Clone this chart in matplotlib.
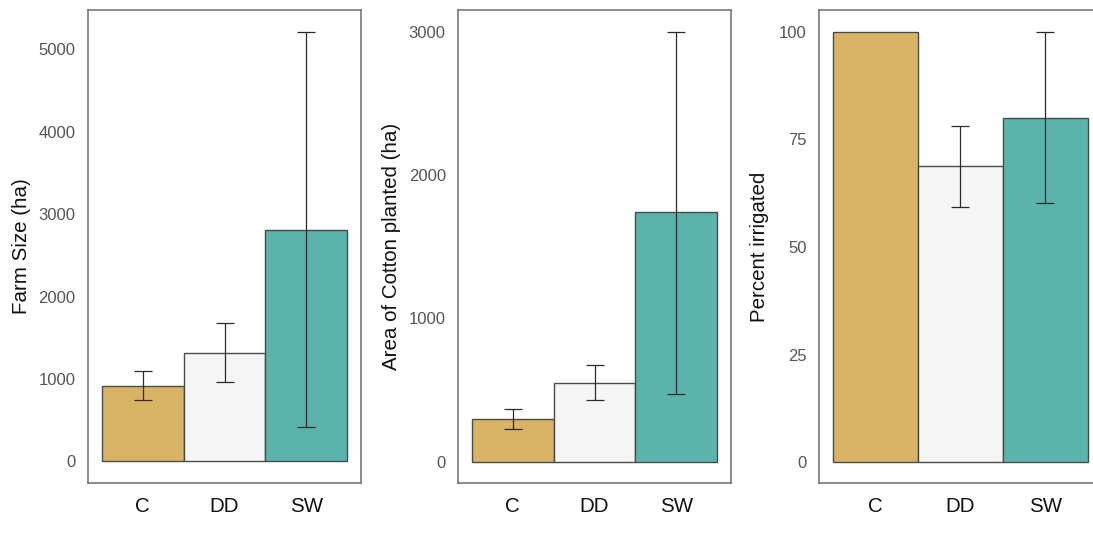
import matplotlib
matplotlib.use("Agg")
import matplotlib.pyplot as plt

plt.rcParams["font.family"] = ["Liberation Sans", "DejaVu Sans"]

groups = ["C", "DD", "SW"]
colors = ["#D8B365", "#F5F5F5", "#5AB4AC"]

farm_size = [915, 1320, 2812]
farm_size_lo = [742, 968, 419]
farm_size_hi = [1097, 1678, 5213]

cotton_area = [300, 546, 1739]
cotton_area_lo = [230, 427, 474]
cotton_area_hi = [366, 671, 3000]

pct_irrigated = [100, 68.8, 80.0]
pct_irrigated_lo = [100, 59.3, 60.1]
pct_irrigated_hi = [100, 78.1, 100]

panels = [
    dict(vals=farm_size, lo=farm_size_lo, hi=farm_size_hi,
         label="Farm Size (ha)", ticks=[0, 1000, 2000, 3000, 4000, 5000],
         ylim=(-261, 5474), rect=[88, 273], labx=-0.245),
    dict(vals=cotton_area, lo=cotton_area_lo, hi=cotton_area_hi,
         label="Area of Cotton planted (ha)", ticks=[0, 1000, 2000, 3000],
         ylim=(-150, 3150), rect=[458.3, 272.4], labx=-0.247),
    dict(vals=pct_irrigated, lo=pct_irrigated_lo, hi=pct_irrigated_hi,
         label="Percent irrigated", ticks=[0, 25, 50, 75, 100],
         ylim=(-4.8, 105), rect=[819, 282.6], labx=-0.209),
]

W, H = 1093, 545
fig = plt.figure(figsize=(W / 100, H / 100), dpi=100)
fig.patch.set_facecolor("white")

top_px, bot_px = 10, 483
x = [1, 2, 3]
for p in panels:
    left, width = p["rect"]
    ax = fig.add_axes([left / W, 1 - bot_px / H, width / W, (bot_px - top_px) / H])
    ax.bar(x, p["vals"], width=1.0, color=colors, edgecolor="#4a4a4a",
           linewidth=1.0, zorder=2)
    for xi, v, lo, hi in zip(x, p["vals"], p["lo"], p["hi"]):
        if hi - lo > 0:
            ax.errorbar(xi, v, yerr=[[v - lo], [hi - v]], fmt="none",
                        ecolor="#2b2b2b", elinewidth=0.9, capsize=6.5,
                        capthick=0.9, zorder=3)
    ax.set_xlim(0.335, 3.665)
    ax.set_ylim(*p["ylim"])
    ax.set_xticks(x)
    ax.set_xticklabels(groups, fontsize=14.8, color="#111111")
    ax.set_yticks(p["ticks"])
    ax.set_yticklabels([str(t) for t in p["ticks"]], fontsize=12, color="#555555")
    ax.tick_params(axis="both", length=0)
    ax.tick_params(axis="y", pad=9)
    ax.tick_params(axis="x", pad=10)
    for s in ax.spines.values():
        s.set_color("#6e6e6e")
        s.set_linewidth(1.1)
    ax.set_ylabel(p["label"], fontsize=14.8, color="#111111")
    ax.yaxis.label.set_va("center")
    ax.yaxis.set_label_coords(p["labx"], 0.5)

fig.savefig("out.png", dpi=100, facecolor="white")
